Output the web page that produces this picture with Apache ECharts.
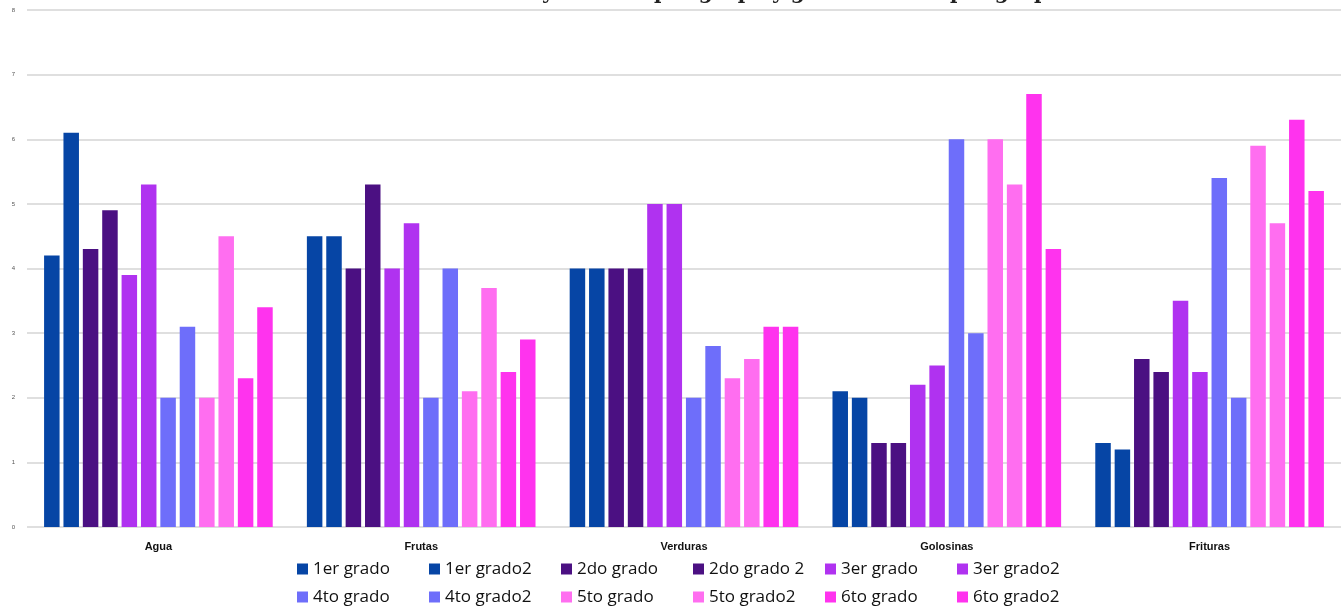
<!DOCTYPE html>
<html>
<head>
<meta charset="utf-8">
<script src="https://cdn.jsdelivr.net/npm/echarts@6/dist/echarts.min.js"></script>
<style>
  html, body { margin: 0; padding: 0; background: #fff; }
  #chart { width: 1341px; height: 609px; }
</style>
</head>
<body>
<div id="chart"></div>
<script>
// categorías y grupos
const categories = ['Agua', 'Frutas', 'Verduras', 'Golosinas', 'Frituras']
const seriesNames = ['1er grado', '1er grado2', '2do grado', '2do grado 2', '3er grado', '3er grado2',
  '4to grado', '4to grado2', '5to grado', '5to grado2', '6to grado', '6to grado2']
const yTicks = [0, 1, 2, 3, 4, 5, 6, 7, 8]

// valores por grupo (Agua, Frutas, Verduras, Golosinas, Frituras)
const grado1a = [4.2, 4.5, 4.0, 2.1, 1.3]
const grado1b = [6.1, 4.5, 4.0, 2.0, 1.2]
const grado2a = [4.3, 4.0, 4.0, 1.3, 2.6]
const grado2b = [4.9, 5.3, 4.0, 1.3, 2.4]
const grado3a = [3.9, 4.0, 5.0, 2.2, 3.5]
const grado3b = [5.3, 4.7, 5.0, 2.5, 2.4]
const grado4a = [2.0, 2.0, 2.0, 6.0, 5.4]
const grado4b = [3.1, 4.0, 2.8, 3.0, 2.0]
const grado5a = [2.0, 2.1, 2.3, 6.0, 5.9]
const grado5b = [4.5, 3.7, 2.6, 5.3, 4.7]
const grado6a = [2.3, 2.4, 3.1, 6.7, 6.3]
const grado6b = [3.4, 2.9, 3.1, 4.3, 5.2]

const allValues = [grado1a, grado1b, grado2a, grado2b, grado3a, grado3b,
  grado4a, grado4b, grado5a, grado5b, grado6a, grado6b]
const colors = ['#0645A5', '#0645A5', '#4B1082', '#4B1082', '#B032F0', '#B032F0',
  '#6E6EFA', '#6E6EFA', '#FF6EF0', '#FF6EF0', '#FF33EE', '#FF33EE']

const chart = echarts.init(document.getElementById('chart'))
chart.setOption({
  animation: false,
  // título cortado en la parte superior (solo se ven los trazos inferiores)
  title: {
    text: 'Consumo de alimentos y bebidas por grupo y grado escolar por grupo',
    left: 'center',
    top: -21,
    textStyle: { fontFamily: 'DejaVu Serif', fontSize: 20, fontWeight: 'bold', color: '#222' },
  },
  grid: { left: 27, right: 0, top: 10, bottom: 82 },
  legend: {
    data: seriesNames,
    left: 292,
    top: 553,
    width: 820,
    icon: 'rect',
    itemWidth: 11,
    itemHeight: 11,
    itemGap: 6,
    textStyle: {
      fontFamily: 'Open Sans',
      fontSize: 17,
      color: '#111',
      width: 110,
      lineHeight: 22,
    },
  },
  xAxis: {
    type: 'category',
    data: categories,
    axisLine: { show: false },
    axisTick: { show: false },
    axisLabel: {
      fontFamily: 'Liberation Sans',
      fontWeight: 'bold',
      fontSize: 11,
      color: '#111',
      margin: 14,
    },
  },
  yAxis: {
    type: 'value',
    min: yTicks[0],
    max: yTicks[yTicks.length - 1],
    interval: 1,
    axisLine: { show: false },
    axisTick: { show: false },
    axisLabel: { fontSize: 6, color: '#555', margin: 12 },
    splitLine: { lineStyle: { color: '#d4d4d4', width: 1.5 } },
  },
  series: seriesNames.map((name, i) => ({
    name,
    type: 'bar',
    data: allValues[i],
    barGap: '25%',
    barCategoryGap: '13%',
    itemStyle: { color: colors[i] },
  })),
})
</script>
</body>
</html>
